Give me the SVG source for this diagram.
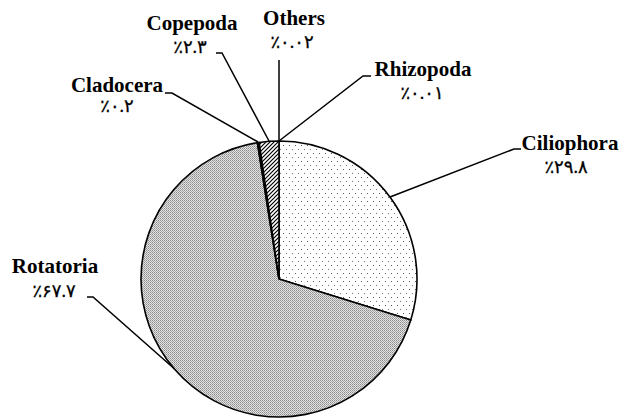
<svg xmlns="http://www.w3.org/2000/svg" width="621" height="419" viewBox="0 0 621 419">
<style>
.t{font-family:"Liberation Serif","Times New Roman",serif;font-weight:bold;font-size:21px;fill:#000;text-anchor:middle}
.p{font-family:"Liberation Serif","DejaVu Sans",serif;font-size:18px;fill:#000;stroke:#000;stroke-width:0.3;text-anchor:middle;direction:ltr}
.s{stroke:#000;stroke-width:1.6;stroke-linejoin:miter}
.l{fill:none;stroke:#000;stroke-width:1.5}
</style>
<defs>
<pattern id="dots" width="6" height="8" patternUnits="userSpaceOnUse">
<rect width="6" height="8" fill="#fff"/>
<rect x="1" y="1" width="1" height="1" fill="#555"/>
<rect x="4" y="5" width="1" height="1" fill="#777"/>
</pattern>
<pattern id="gray" width="2" height="2" patternUnits="userSpaceOnUse">
<rect width="2" height="2" fill="#e2e2e2"/>
<rect x="0" y="0" width="1" height="1" fill="#8c8c8c"/>
<rect x="1" y="1" width="1" height="1" fill="#a8a8a8"/>
</pattern>
<pattern id="hatch" width="4" height="4" patternUnits="userSpaceOnUse">
<rect width="4" height="4" fill="#fff"/>
<path d="M-1,1 L1,-1 M0,4 L4,0 M3,5 L5,3" stroke="#000" stroke-width="1.2"/>
</pattern>
</defs>
<g id="pie">
<path id="ciliophora" class="s" fill="url(#dots)" d="M279,279 L279,141 A138,138 0 0 1 410.77,319.99 Z"/>
<path id="rotatoria" class="s" fill="url(#gray)" d="M279,279 L410.77,319.99 A138,138 0 1 1 257.41,142.7 Z"/>
<path id="cladocera" class="s" fill="#000" d="M279,279 L257.41,142.7 A138,138 0 0 1 259.13,142.44 Z"/>
<path id="copepoda" class="s" fill="url(#hatch)" d="M279,279 L259.13,142.44 A138,138 0 0 1 279,141 Z"/>
</g>
<g id="connectors">
<polyline class="l" points="390,197 514,149 521,149"/>
<polyline class="l" points="279,141 363,76 371,76"/>
<polyline class="l" points="279,141 279,60"/>
<polyline class="l" points="269,141 222,53 216,53"/>
<polyline class="l" points="258,142 172,93 165,93"/>
<polyline class="l" points="174.6,369 93,297 87,297"/>
</g>
<g id="label-ciliophora"><text class="t" x="570" y="150">Ciliophora</text><text class="p" x="566" y="173">٪۲۹.۸</text></g>
<g id="label-rhizopoda"><text class="t" x="423" y="76">Rhizopoda</text><text class="p" x="422" y="99">٪۰.۰۱</text></g>
<g id="label-others"><text class="t" x="294" y="25">Others</text><text class="p" x="292" y="48">٪۰.۰۲</text></g>
<g id="label-copepoda"><text class="t" x="192" y="30">Copepoda</text><text class="p" x="190" y="53">٪۲.۳</text></g>
<g id="label-cladocera"><text class="t" x="117" y="92">Cladocera</text><text class="p" x="117" y="112">٪۰.۲</text></g>
<g id="label-rotatoria"><text class="t" x="55" y="273">Rotatoria</text><text class="p" x="54" y="297">٪۶۷.۷</text></g>
</svg>
